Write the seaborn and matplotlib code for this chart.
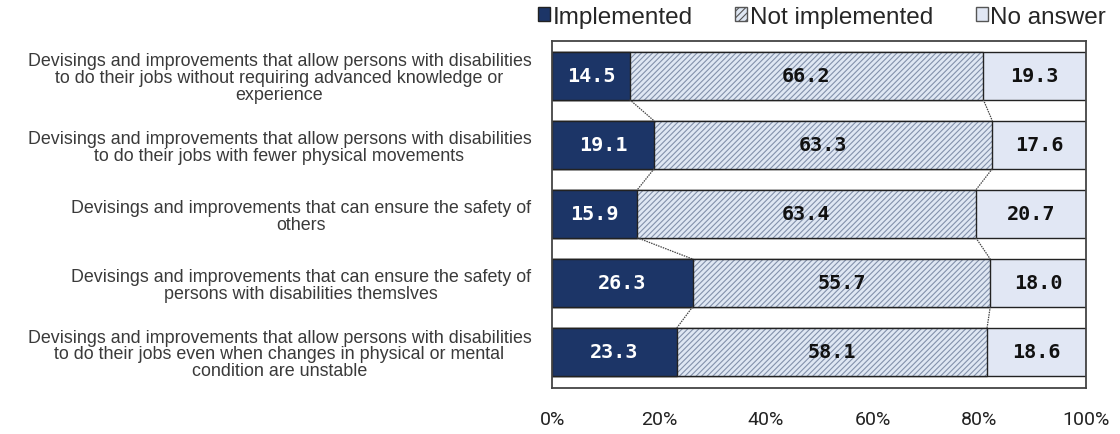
import matplotlib
matplotlib.use("Agg")
import matplotlib.pyplot as plt
import seaborn as sns
import pandas as pd
import numpy as np
from matplotlib.patches import Patch

categories = [
    "Devisings and improvements that allow persons with disabilities\nto do their jobs without requiring advanced knowledge or\nexperience",
    "Devisings and improvements that allow persons with disabilities\nto do their jobs with fewer physical movements",
    "Devisings and improvements that can ensure the safety of\nothers",
    "Devisings and improvements that can ensure the safety of\npersons with disabilities themslves",
    "Devisings and improvements that allow persons with disabilities\nto do their jobs even when changes in physical or mental\ncondition are unstable",
]
implemented = [14.5, 19.1, 15.9, 26.3, 23.3]
not_implemented = [66.2, 63.3, 63.4, 55.7, 58.1]
no_answer = [19.3, 17.6, 20.7, 18.0, 18.6]
series_names = ["Implemented", "Not implemented", "No answer"]
xticks = [0, 20, 40, 60, 80, 100]

sns.set_theme(style="white")
plt.rcParams["font.family"] = ["Liberation Sans", "DejaVu Sans"]
plt.rcParams["hatch.linewidth"] = 0.8

c_impl = "#1c3567"
c_not = "#dfe7f3"
c_hatch = "#8391ab"
c_na = "#e1e7f4"
edge = "#222222"

keys = [f"c{i}" for i in range(len(categories))]
df = pd.DataFrame({
    "key": keys,
    "impl": implemented,
    "not": not_implemented,
    "na": no_answer,
})
df["cum1"] = df["impl"]
df["cum2"] = df["impl"] + df["not"]
df["cum3"] = df["cum2"] + df["na"]

fig = plt.figure(figsize=(11.2, 4.35), dpi=100)
ax = fig.add_axes([0.493, 0.106, 0.477, 0.797])
W = 0.69

# No answer (full stack)
sns.barplot(data=df, x="cum3", y="key", orient="h", color=c_na, saturation=1,
            width=W, errorbar=None, edgecolor=edge, linewidth=1.0, ax=ax)
n0 = len(ax.patches)
# Not implemented hatch layer
sns.barplot(data=df, x="cum2", y="key", orient="h", color=c_not, saturation=1,
            width=W, errorbar=None, edgecolor=c_hatch, linewidth=0, ax=ax)
for p in ax.patches[n0:]:
    p.set_hatch("//////")
n1 = len(ax.patches)
# Not implemented outline
sns.barplot(data=df, x="cum2", y="key", orient="h", color="none", saturation=1,
            width=W, errorbar=None, edgecolor=edge, linewidth=1.0, ax=ax, fill=False)
for p in ax.patches[n1:]:
    p.set_facecolor("none")
    p.set_edgecolor(edge)
# Implemented
sns.barplot(data=df, x="cum1", y="key", orient="h", color=c_impl, saturation=1,
            width=W, errorbar=None, edgecolor=edge, linewidth=1.0, ax=ax)

# segment labels
lab_font = dict(fontsize=14.5, fontweight="bold", family=["DejaVu Sans Mono"])
for i in range(len(categories)):
    ax.text(df["impl"][i] / 2, i, f"{implemented[i]:.1f}", ha="center", va="center",
            color="white", **lab_font)
    ax.text(df["impl"][i] + df["not"][i] / 2, i, f"{not_implemented[i]:.1f}",
            ha="center", va="center", color="#111111", **lab_font)
    ax.text(df["cum2"][i] + df["na"][i] / 2, i, f"{no_answer[i]:.1f}",
            ha="center", va="center", color="#111111", **lab_font)

# connector lines between bars
for i in range(len(categories) - 1):
    for col in ["cum1", "cum2"]:
        ax.plot([df[col][i], df[col][i + 1]], [i + W / 2, i + 1 - W / 2],
                color="#444444", lw=0.9, ls=(0, (1.2, 0.8)), zorder=1)

ax.set_xlim(0, 100)
ax.set_ylim(len(categories) - 0.48, -0.5)
ax.set_xticks(xticks)
ax.set_xticklabels([f"{t}%" for t in xticks], fontsize=14,
                   family=["Roboto", "DejaVu Sans"], color="#222222")
ax.tick_params(axis="x", direction="in", length=7, width=1, colors="#333333",
               labelcolor="#222222", pad=16)
ax.set_yticks(range(len(categories)))
ax.set_yticklabels(categories, fontsize=12.9, color="#3a3a3a",
                   multialignment="center", linespacing=0.98)
ax.tick_params(axis="y", length=0, pad=15)
ax.set_xlabel("")
ax.set_ylabel("")
for s in ax.spines.values():
    s.set_visible(True)
    s.set_color("#444444")
    s.set_linewidth(1.3)

handles = [
    Patch(facecolor=c_impl, edgecolor=edge, label=series_names[0]),
    Patch(facecolor=c_not, edgecolor="#555555", hatch="/////", label=series_names[1]),
    Patch(facecolor=c_na, edgecolor="#555555", label=series_names[2]),
]
fig.legend(handles=handles, loc="center left", bbox_to_anchor=(538 / 1120, 1 - 18 / 435),
           ncol=3, frameon=False, fontsize=17.5, handlelength=0.5, handleheight=0.5,
           handletextpad=0.1, columnspacing=1.75, borderpad=0, borderaxespad=0)

fig.savefig("out.png", dpi=100)
